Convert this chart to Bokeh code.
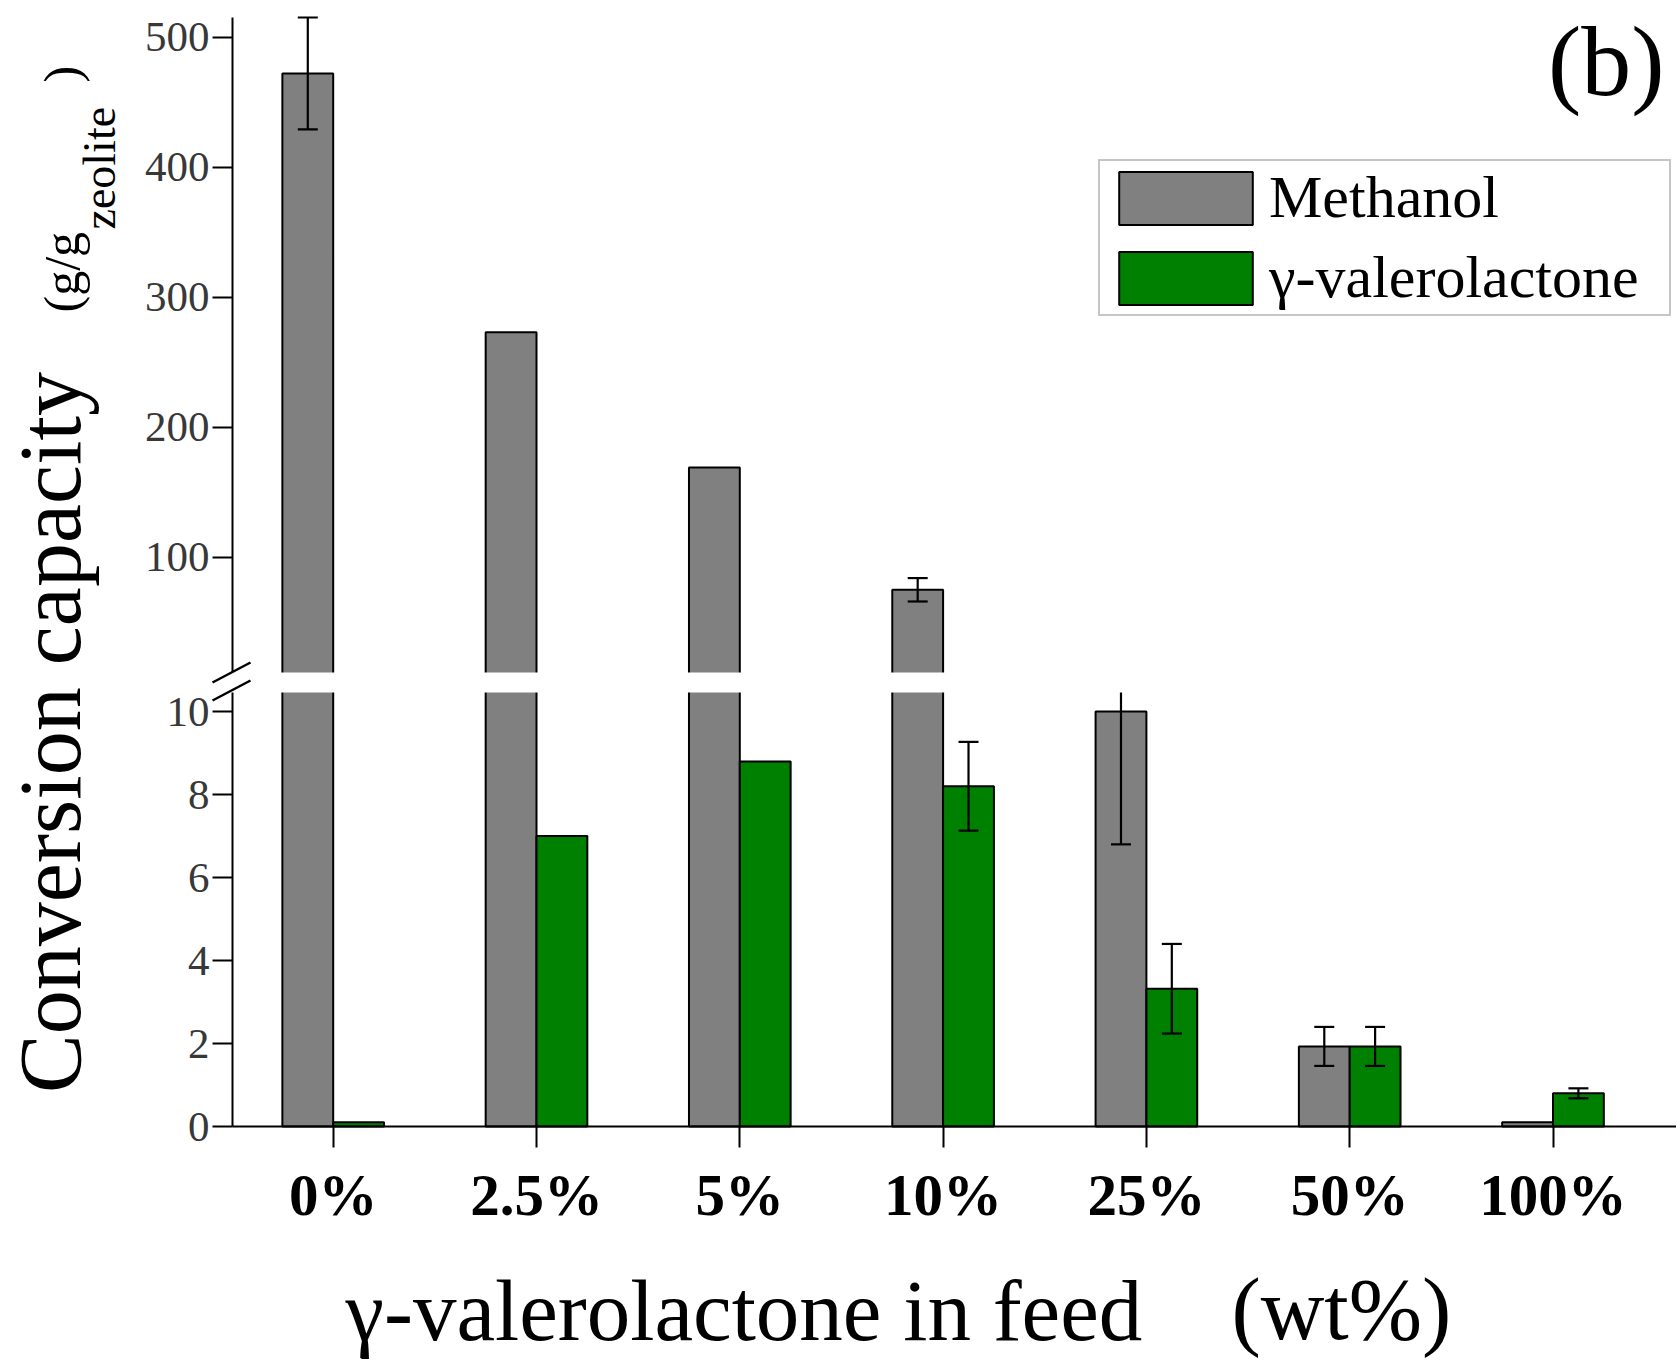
import numpy as np
from bokeh.plotting import figure
from bokeh.models import (Range1d, LinearAxis, FixedTicker, ColumnDataSource, Whisker,
                          TeeHead, Legend, LegendItem, Label)
from bokeh.embed import file_html
from bokeh.resources import INLINE

# ---- data -------------------------------------------------------------
categories = ["0%", "2.5%", "5%", "10%", "25%", "50%", "100%"]
methanol = [472.0, 273.0, 169.0, 75.0, 10.0, 1.93, 0.1]
methanol_err = [43.0, 0.0, 0.0, 9.0, 3.2, 0.47, 0.0]
gvl = [0.1, 7.0, 8.8, 8.2, 3.32, 1.93, 0.80]
gvl_err = [0.0, 0.0, 0.0, 1.07, 1.08, 0.47, 0.12]

upper_ticks = [100, 200, 300, 400, 500]
lower_ticks = [0, 2, 4, 6, 8, 10]

# broken value axis: lower panel 0..LOWER_TOP, upper panel UPPER_BOTTOM..UPPER_TOP
LOWER_TOP = 10.46
UPPER_BOTTOM = 11.4
UPPER_TOP = 515.0

# ---- layout (pixels, measured from the top-left of the canvas) --------
CANVAS_W = 1676
CANVAS_H = 1364
AXIS_PX = 232          # where the value axis is drawn
TOP_PX = 17            # top of the upper panel
UPPER_PX = 655
GAP_PX = 20
LOWER_PX = 434
CAT0_PX = 332.7        # centre of the first category
CAT_STEP_PX = 203.3    # distance between categories
BAR_W = 0.25

UPPER_BOTTOM_PX = TOP_PX + UPPER_PX
BASE_PX = UPPER_BOTTOM_PX + GAP_PX + LOWER_PX      # zero line
lower_scale = LOWER_PX / LOWER_TOP
upper_scale = UPPER_PX / (UPPER_TOP - UPPER_BOTTOM)


def data_x(px):
    return (px - CAT0_PX) / CAT_STEP_PX


def data_y(py):
    return (BASE_PX - py) / lower_scale


def upper_y(py):
    return UPPER_BOTTOM + (UPPER_BOTTOM_PX - py) / upper_scale


x_start, x_end, axis_x = data_x(0), data_x(CANVAS_W), data_x(AXIS_PX)

lower_range = Range1d(data_y(CANVAS_H), data_y(0))
upper_range = Range1d(upper_y(CANVAS_H), upper_y(0))

GRAY = "#808080"
GREEN = "#008000"
SERIF = "Liberation Serif"

p = figure(frame_width=CANVAS_W, frame_height=CANVAS_H,
           x_range=Range1d(x_start, x_end), y_range=lower_range,
           output_backend="svg", toolbar_location=None, title=None,
           min_border=0, outline_line_color=None,
           background_fill_color="white", border_fill_color="white")
p.extra_y_ranges = {"upper": upper_range}
p.xgrid.visible = False
p.ygrid.visible = False

idx = np.arange(len(categories))
meth_x = idx - BAR_W / 2
gvl_x = idx + BAR_W / 2

# ---- lower panel bars (tall bars run into the break) ------------------
low = ColumnDataSource(dict(
    mx=meth_x, gx=gvl_x,
    mtop=np.minimum(methanol, LOWER_TOP + 0.1),
    gtop=np.minimum(gvl, LOWER_TOP + 0.1),
))
p.vbar(x="mx", width=BAR_W, bottom=0, top="mtop", source=low,
       fill_color=GRAY, line_color="black", line_width=2)
r_gvl = p.vbar(x="gx", width=BAR_W, bottom=0, top="gtop", source=low,
               fill_color=GREEN, line_color="black", line_width=2)

# ---- upper panel bars --------------------------------------------------
keep = [i for i, v in enumerate(methanol) if v > UPPER_BOTTOM]
up = ColumnDataSource(dict(mx=[meth_x[i] for i in keep],
                           mtop=[methanol[i] for i in keep]))
r_meth = p.vbar(x="mx", width=BAR_W, bottom=UPPER_BOTTOM - 3, top="mtop", source=up,
                y_range_name="upper", fill_color=GRAY, line_color="black", line_width=2)

# white gap separating the two panels
p.quad(left=axis_x, right=x_end, bottom=LOWER_TOP,
       top=LOWER_TOP + GAP_PX / lower_scale, fill_color="white", line_color=None)

# break marks across the value axis
p.segment(x0=[data_x(212)] * 2, y0=[data_y(682), data_y(700)],
          x1=[data_x(250)] * 2, y1=[data_y(662), data_y(680)],
          line_color="black", line_width=2.5)

# ---- error bars ----------------------------------------------------------
def add_whiskers(rows, range_name, with_top=True):
    if not rows["x"]:
        return
    src = ColumnDataSource(dict(x=rows["x"], lo=rows["lo"], hi=rows["hi"]))
    w = Whisker(base="x", lower="lo", upper="hi", source=src, y_range_name=range_name,
                line_color="black", line_width=2.2, level="annotation",
                lower_head=TeeHead(size=20, line_width=2.2, line_color="black"),
                upper_head=TeeHead(size=20, line_width=2.2, line_color="black") if with_top else None)
    p.add_layout(w)


full_lo = {"x": [], "lo": [], "hi": []}
cut_lo = {"x": [], "lo": [], "hi": []}
full_up = {"x": [], "lo": [], "hi": []}
for xs, vals, errs in ((meth_x, methanol, methanol_err), (gvl_x, gvl, gvl_err)):
    for x, v, e in zip(xs, vals, errs):
        if e <= 0:
            continue
        if v > UPPER_BOTTOM:
            target, hi = full_up, v + e
        elif v + e > LOWER_TOP:
            target, hi = cut_lo, LOWER_TOP
        else:
            target, hi = full_lo, v + e
        target["x"].append(float(x))
        target["lo"].append(v - e)
        target["hi"].append(hi)

add_whiskers(full_lo, "default")
add_whiskers(cut_lo, "default", with_top=False)
add_whiskers(full_up, "upper")

# ---- axes ----------------------------------------------------------------
def style_value_axis(ax):
    ax.fixed_location = axis_x
    ax.major_tick_out = 20
    ax.major_tick_in = 0
    ax.minor_tick_out = 0
    ax.minor_tick_in = 0
    ax.axis_line_width = 2
    ax.major_tick_line_width = 2
    ax.major_label_standoff = 3
    ax.major_label_text_font = SERIF
    ax.major_label_text_font_size = "43px"
    ax.major_label_text_color = "#383838"


lower_axis = p.yaxis[0]
lower_axis.ticker = FixedTicker(ticks=lower_ticks)
lower_axis.bounds = (0, LOWER_TOP)
style_value_axis(lower_axis)

upper_axis = LinearAxis(y_range_name="upper", ticker=FixedTicker(ticks=upper_ticks),
                        bounds=(UPPER_BOTTOM, UPPER_TOP))
style_value_axis(upper_axis)
p.add_layout(upper_axis, "left")

xa = p.xaxis[0]
xa.fixed_location = 0
xa.ticker = FixedTicker(ticks=[int(i) for i in idx])
xa.major_label_overrides = {int(i): c for i, c in zip(idx, categories)}
xa.bounds = (axis_x, x_end)
xa.major_tick_out = 21
xa.major_tick_in = 0
xa.minor_tick_out = 0
xa.minor_tick_in = 0
xa.axis_line_width = 2
xa.major_tick_line_width = 2
xa.major_label_standoff = 14
xa.major_label_text_font = SERIF
xa.major_label_text_font_size = "59px"
xa.major_label_text_font_style = "bold"
xa.major_label_text_color = "black"

# ---- legend --------------------------------------------------------------
legend = Legend(items=[LegendItem(label="Methanol", renderers=[r_meth]),
                       LegendItem(label="γ-valerolactone", renderers=[r_gvl])],
                location=(1098, CANVAS_H - 316),
                glyph_width=167, glyph_height=66, label_height=66, label_width=398,
                label_standoff=0, spacing=11, padding=2, margin=0,
                label_text_font=SERIF, label_text_font_size="60px", label_text_color="black",
                border_line_color="#8c8c8c", border_line_width=2,
                background_fill_color="white", background_fill_alpha=1.0)
p.add_layout(legend)

# ---- titles --------------------------------------------------------------
# Label anchors sit a little below the alphabetic baseline; shift them back
# by a fraction of the font size along the text's downward direction.
BASELINE_SHIFT = 0.36


def add_text(text, px, py, size, vertical=False, align="left"):
    shift = BASELINE_SHIFT * size
    if vertical:
        px, angle = px - shift, np.pi / 2
    else:
        py, angle = py - shift, 0.0
    p.add_layout(Label(x=data_x(px), y=data_y(py), text=text, angle=angle,
                       text_align=align, text_baseline="alphabetic",
                       text_font=SERIF, text_font_size=f"{size}px",
                       text_color="black"))


add_text("Conversion capacity", 82, 732, 88, vertical=True, align="center")
add_text("(g/g", 79, 312, 50, vertical=True)
add_text("zeolite", 116, 229, 46, vertical=True)
add_text(")", 79, 82, 50, vertical=True)
add_text("(b)", 1664, 97, 100, align="right")
add_text("γ-valerolactone in feed", 345, 1341, 87)
add_text("(wt%)", 1231, 1341, 88)

open("out.html", "w").write(file_html(p, INLINE))
